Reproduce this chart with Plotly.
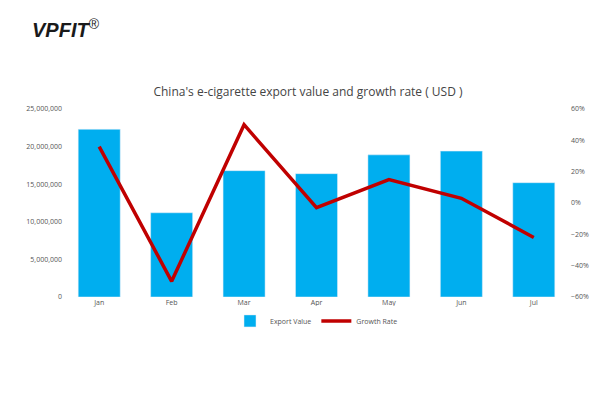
import plotly.graph_objects as go

months = ["Jan", "Feb", "Mar", "Apr", "May", "Jun", "Jul"]
export_value = [22300000, 11200000, 16800000, 16400000, 18900000, 19400000, 15200000]
growth_rate = [0.36, -0.50, 0.50, -0.03, 0.15, 0.03, -0.22]

fig = go.Figure()
fig.add_trace(go.Bar(x=months, y=export_value, name="Export Value",
                     marker_color="#00aeef", width=0.58))
fig.add_trace(go.Scatter(x=months, y=growth_rate, name="Growth Rate", yaxis="y2",
                         mode="lines", line=dict(color="#c00000", width=3.5)))

fig.update_layout(
    width=600, height=400,
    paper_bgcolor="white", plot_bgcolor="white",
    margin=dict(l=55, r=38, t=101, b=111),
    font=dict(family="Open Sans", size=8, color="#555555"),
    title=dict(text="China's e-cigarette export value and growth rate ( USD )",
               x=0.5, y=0.79, xanchor="center", yanchor="middle",
               font=dict(size=12, color="#444444")),
    xaxis=dict(showline=False, ticks="", tickfont=dict(size=7, color="#555555")),
    yaxis=dict(range=[0, 25000000], dtick=5000000, tickformat=",", showgrid=False,
               zeroline=False, showline=False, tickfont=dict(size=7, color="#555555")),
    yaxis2=dict(overlaying="y", side="right", range=[-0.6, 0.6], dtick=0.2,
                tickformat=".0%", showgrid=False, zeroline=False,
                tickfont=dict(size=7, color="#555555")),
    legend=dict(orientation="h", x=0.5, xanchor="center", y=-0.05, yanchor="top",
                font=dict(size=7, color="#555555")),
)
fig.add_annotation(text="<b><i>VPFIT</i></b><sup>®</sup>", xref="paper", yref="paper",
                   x=-0.065, y=1.43, xanchor="left", yanchor="middle", showarrow=False,
                   font=dict(size=20, color="#1a1a1a", family="Liberation Sans"))
fig.write_html("out.html")
